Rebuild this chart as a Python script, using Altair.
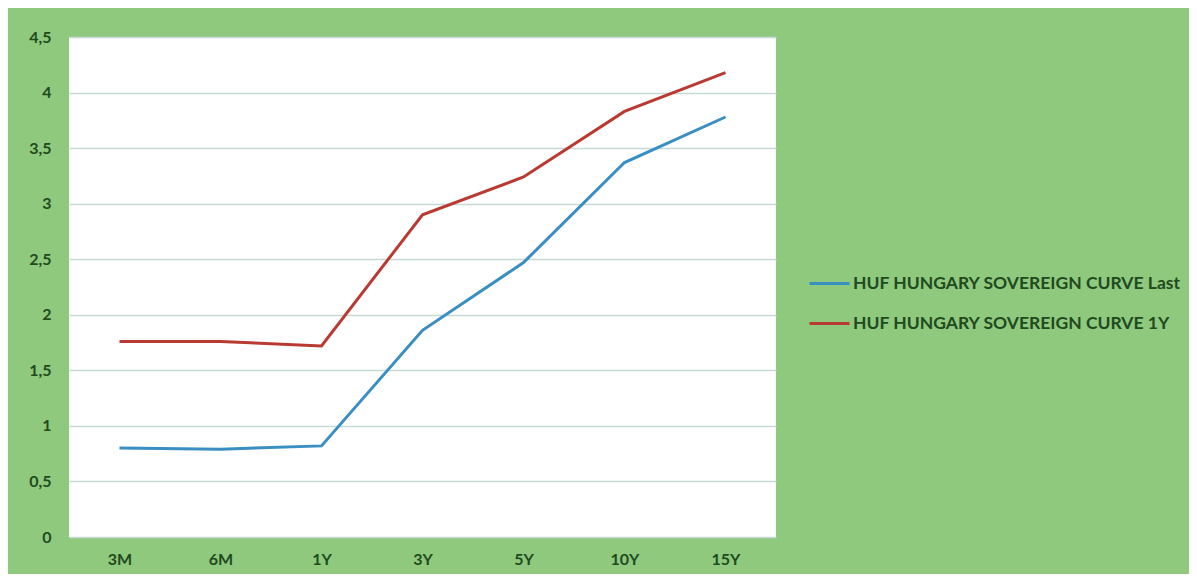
import altair as alt
import pandas as pd

tenors = ["3M", "6M", "1Y", "3Y", "5Y", "10Y", "15Y"]
last_vals = [0.80, 0.79, 0.82, 1.86, 2.47, 3.37, 3.78]
y1_vals = [1.76, 1.76, 1.72, 2.90, 3.24, 3.83, 4.18]
series_names = ["HUF HUNGARY SOVEREIGN CURVE Last", "HUF HUNGARY SOVEREIGN CURVE 1Y"]
series_colors = ["#3a8ec2", "#b93a32"]
y_ticks = [0, 0.5, 1, 1.5, 2, 2.5, 3, 3.5, 4, 4.5]

rows = []
for t, v in zip(tenors, last_vals):
    rows.append({"tenor": t, "value": v, "series": series_names[0]})
for t, v in zip(tenors, y1_vals):
    rows.append({"tenor": t, "value": v, "series": series_names[1]})
df = pd.DataFrame(rows)

text_color = "#214a1e"
font = "Lato"

chart = alt.Chart(df).mark_line(strokeWidth=3).encode(
    x=alt.X("tenor:N", sort=tenors, title=None,
            scale=alt.Scale(type="point", padding=0.5),
            axis=alt.Axis(labelAngle=0, domain=False, ticks=False, grid=False,
                          labelFont=font, labelFontWeight="bold", labelFontSize=16,
                          labelColor=text_color, labelPadding=14)),
    y=alt.Y("value:Q", title=None,
            scale=alt.Scale(domain=[0, 4.5], nice=False),
            axis=alt.Axis(values=y_ticks, domain=False, ticks=False,
                          gridColor="#c5d9d6", gridWidth=1.5,
                          labelExpr="replace(toString(datum.value), '.', ',')",
                          labelFont=font, labelFontWeight="bold", labelFontSize=16,
                          labelColor=text_color, labelPadding=18)),
    color=alt.Color("series:N",
                    scale=alt.Scale(domain=series_names, range=series_colors),
                    legend=alt.Legend(title=None, orient="none", legendX=739, legendY=225,
                                      symbolType="stroke", symbolSize=1600,
                                      symbolStrokeWidth=3, rowPadding=10,
                                      labelFont=font, labelFontWeight="bold",
                                      labelFontSize=17.5, labelColor=text_color,
                                      labelOffset=2, labelLimit=0)),
).properties(
    width=707, height=500,
    autosize=alt.AutoSizeParams(type="none"),
    padding={"left": 61, "top": 29, "right": 413, "bottom": 37},
).configure(
    background="#8fc97d",
).configure_view(
    fill="white", stroke=None,
)

chart.save("out.html", embed_options={"renderer": "svg", "actions": False})
